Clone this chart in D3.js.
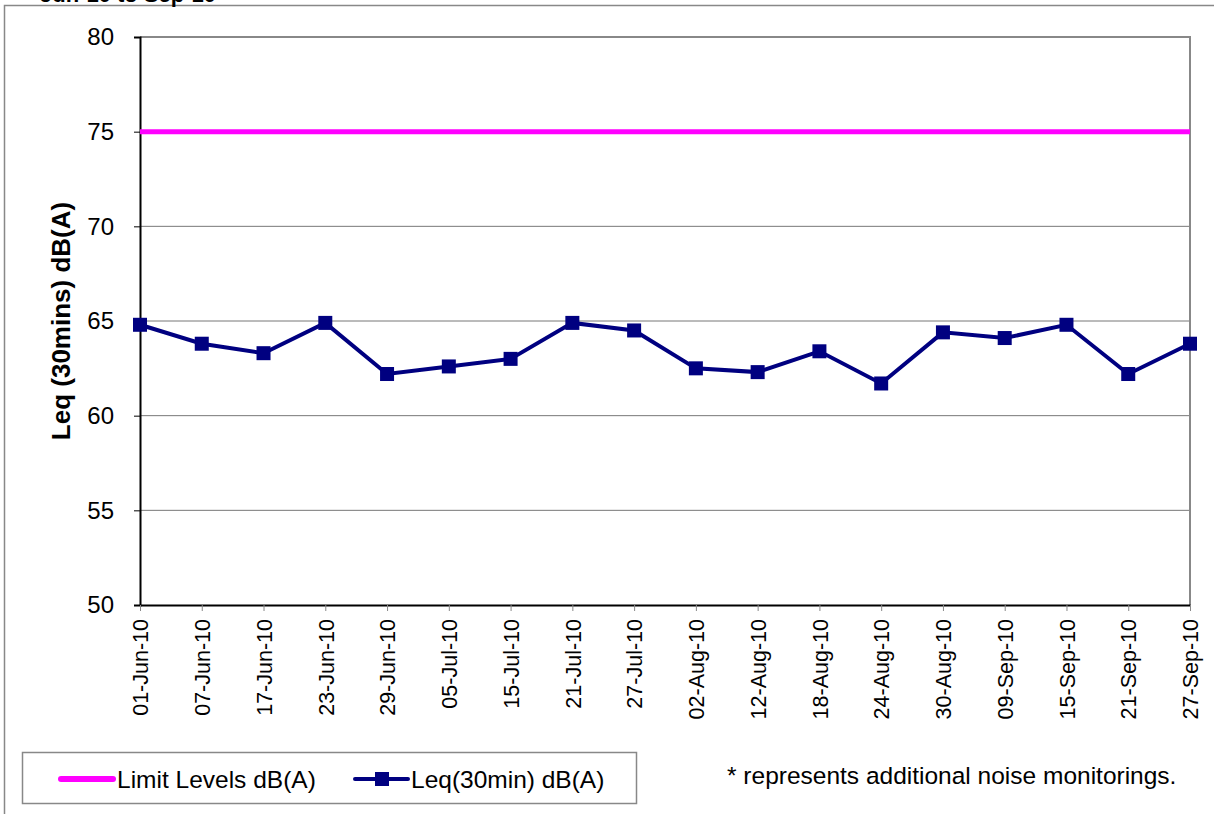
<!DOCTYPE html>
<html lang="en">
<head>
<meta charset="UTF-8">
<script src="https://d3js.org/d3.v7.min.js"></script>
<style>
  body { margin: 0; background: #fff; }
  svg { display: block; font-family: 'Liberation Sans', Arial, sans-serif; }
</style>
</head>
<body>
<div id="chart"></div>
<script>
  // data
  const dates = ["01-Jun-10", "07-Jun-10", "17-Jun-10", "23-Jun-10", "29-Jun-10", "05-Jul-10",
    "15-Jul-10", "21-Jul-10", "27-Jul-10", "02-Aug-10", "12-Aug-10", "18-Aug-10",
    "24-Aug-10", "30-Aug-10", "09-Sep-10", "15-Sep-10", "21-Sep-10", "27-Sep-10"];
  const leqValues = [64.8, 63.8, 63.3, 64.9, 62.2, 62.6, 63.0, 64.9, 64.5, 62.5,
    62.3, 63.4, 61.7, 64.4, 64.1, 64.8, 62.2, 63.8];
  const limitValues = [75, 75, 75, 75, 75, 75, 75, 75, 75, 75, 75, 75, 75, 75, 75, 75, 75, 75];
  const yTicks = [50, 55, 60, 65, 70, 75, 80];

  const W = 1214, H = 814;
  const plot = { left: 140, right: 1190, top: 37, bottom: 605 };

  const svg = d3.select("#chart").append("svg")
    .attr("width", W).attr("height", H);

  // outer chart frame (partly cut off)
  svg.append("path")
    .attr("d", `M4.5,${H} L4.5,5.5 L${W},5.5`)
    .attr("fill", "none").attr("stroke", "#888").attr("stroke-width", 1.5);

  // title, mostly cut off at the top as in the source
  svg.append("text")
    .attr("x", 216).attr("y", 2)
    .attr("text-anchor", "end")
    .attr("font-size", "22px").attr("font-weight", "bold")
    .text("Jun-10 to Sep-10");

  const x = d3.scalePoint().domain(dates).range([plot.left, plot.right]);
  const y = d3.scaleLinear().domain([50, 80]).range([plot.bottom, plot.top]);

  // gridlines
  svg.append("g")
    .selectAll("line")
    .data(yTicks.filter(d => d > 50 && d < 80))
    .join("line")
    .attr("x1", plot.left).attr("x2", plot.right)
    .attr("y1", d => y(d)).attr("y2", d => y(d))
    .attr("stroke", "#777").attr("stroke-width", 1);

  // plot border top and right (grey)
  svg.append("path")
    .attr("d", `M${plot.left},${y(80)} L${plot.right},${y(80)} L${plot.right},${plot.bottom}`)
    .attr("fill", "none").attr("stroke", "#888").attr("stroke-width", 2);

  // y axis
  const yAxis = svg.append("g")
    .attr("transform", `translate(${plot.left},0)`)
    .call(d3.axisLeft(y).tickValues(yTicks).tickSize(6).tickPadding(20).tickFormat(d3.format("d")));
  yAxis.select(".domain").attr("stroke", "#000").attr("stroke-width", 2);
  yAxis.selectAll(".tick line").attr("stroke", "#000");
  yAxis.selectAll(".tick text")
    .attr("font-size", "24px").attr("font-family", "'Liberation Sans', Arial, sans-serif")
    .attr("fill", "#000");

  // x axis
  const xAxis = svg.append("g")
    .attr("transform", `translate(0,${plot.bottom})`)
    .call(d3.axisBottom(x).tickSize(6).tickSizeOuter(0));
  xAxis.select(".domain").attr("stroke", "#000").attr("stroke-width", 2);
  xAxis.selectAll(".tick line").attr("stroke", "#888");
  xAxis.selectAll(".tick text")
    .attr("font-size", "21.5px").attr("font-family", "'Liberation Sans', Arial, sans-serif")
    .attr("fill", "#000")
    .attr("text-anchor", "end")
    .attr("dy", "0.36em")
    .attr("transform", "translate(0,14) rotate(-90)")
    .attr("x", 0).attr("y", 0);

  // y axis title
  svg.append("text")
    .attr("transform", `translate(70,${(plot.top + plot.bottom) / 2}) rotate(-90)`)
    .attr("text-anchor", "middle")
    .attr("font-size", "26px").attr("font-weight", "bold")
    .text("Leq (30mins) dB(A)");

  // limit line
  const line = d3.line().x((d, i) => x(dates[i])).y(d => y(d));
  svg.append("path")
    .datum(limitValues)
    .attr("d", line)
    .attr("fill", "none").attr("stroke", "#FF00FF").attr("stroke-width", 5);

  // Leq series
  svg.append("path")
    .datum(leqValues)
    .attr("d", line)
    .attr("fill", "none").attr("stroke", "#000080").attr("stroke-width", 4)
    .attr("stroke-linejoin", "miter");

  const mk = 14;
  svg.append("g")
    .selectAll("rect")
    .data(leqValues)
    .join("rect")
    .attr("x", (d, i) => x(dates[i]) - mk / 2)
    .attr("y", d => y(d) - mk / 2)
    .attr("width", mk).attr("height", mk)
    .attr("fill", "#000080");

  // legend
  const lg = svg.append("g");
  lg.append("rect")
    .attr("x", 22.5).attr("y", 752.5).attr("width", 614).attr("height", 51)
    .attr("fill", "#fff").attr("stroke", "#888").attr("stroke-width", 1.5);
  lg.append("line")
    .attr("x1", 61).attr("x2", 113).attr("y1", 779).attr("y2", 779)
    .attr("stroke", "#FF00FF").attr("stroke-width", 6).attr("stroke-linecap", "round");
  lg.append("text")
    .attr("x", 117).attr("y", 788)
    .attr("font-size", "24.5px")
    .text("Limit Levels dB(A)");
  lg.append("line")
    .attr("x1", 355).attr("x2", 408).attr("y1", 779).attr("y2", 779)
    .attr("stroke", "#000080").attr("stroke-width", 4).attr("stroke-linecap", "round");
  lg.append("rect")
    .attr("x", 382 - 7).attr("y", 779 - 7).attr("width", 14).attr("height", 14)
    .attr("fill", "#000080");
  lg.append("text")
    .attr("x", 411).attr("y", 788)
    .attr("font-size", "24.5px")
    .text("Leq(30min) dB(A)");

  // note
  svg.append("text")
    .attr("x", 727).attr("y", 784)
    .attr("font-size", "24.5px")
    .text("* represents additional noise monitorings.");
</script>
</body>
</html>
